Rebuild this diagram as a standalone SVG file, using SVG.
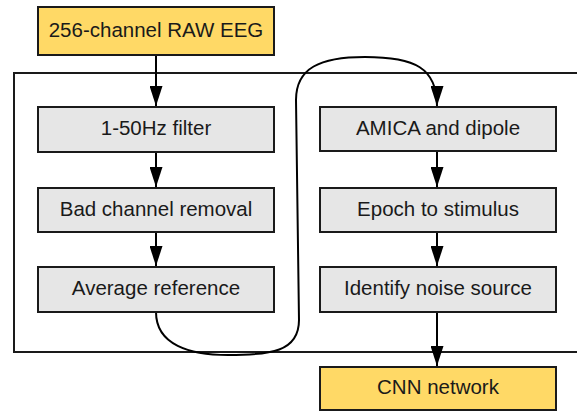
<svg xmlns="http://www.w3.org/2000/svg" width="577" height="411" viewBox="0 0 577 411">
<defs>
<style>
.box{stroke:#1a1a1a;stroke-width:2}
.y{fill:#ffd966}
.g{fill:#e6e6e6}
text{font-family:"Liberation Sans",Arial,sans-serif;font-size:20.5px;fill:#1a1a1a;text-anchor:middle}
.c{fill:none;stroke:#000;stroke-width:2}
</style>
<marker id="ah" markerWidth="20" markerHeight="13" refX="20" refY="6.5" orient="auto" markerUnits="userSpaceOnUse" viewBox="0 0 20 13">
<path d="M0,0 L20,6.5 L0,13 Z" fill="#000"/>
</marker>
</defs>
<rect x="14" y="73" width="580" height="279" fill="none" stroke="#1a1a1a" stroke-width="2"/>
<g id="connectors">
<path class="c" d="M156,55 L156,106" marker-end="url(#ah)"/>
<path class="c" d="M156,152 L156,187" marker-end="url(#ah)"/>
<path class="c" d="M156,232 L156,266" marker-end="url(#ah)"/>
<path class="c" d="M437,151 L437,187" marker-end="url(#ah)"/>
<path class="c" d="M437,232 L437,266" marker-end="url(#ah)"/>
<path class="c" d="M437,312 L437,366" marker-end="url(#ah)"/>
<path class="c" d="M156,312 C156,345 190,355 228,355 C270,355 299,352 299,320 L296,100 C296,68 320,57 365,57 C415,57 437,68 437,106" marker-end="url(#ah)"/>
</g>
<g id="raw"><rect class="box y" x="38" y="7" width="236" height="48"/><text x="156" y="37">256-channel RAW EEG</text></g>
<g id="filter"><rect class="box g" x="38" y="107" width="236" height="45"/><text x="156" y="135">1-50Hz filter</text></g>
<g id="badch"><rect class="box g" x="38" y="188" width="236" height="44"/><text x="156" y="216">Bad channel removal</text></g>
<g id="avgref"><rect class="box g" x="38" y="267" width="236" height="45"/><text x="156" y="295">Average reference</text></g>
<g id="amica"><rect class="box g" x="320" y="107" width="236" height="44"/><text x="438" y="135">AMICA and dipole</text></g>
<g id="epoch"><rect class="box g" x="320" y="188" width="236" height="44"/><text x="438" y="216">Epoch to stimulus</text></g>
<g id="noise"><rect class="box g" x="320" y="267" width="236" height="45"/><text x="438" y="295">Identify noise source</text></g>
<g id="cnn"><rect class="box y" x="320" y="367" width="236" height="43"/><text x="438" y="394">CNN network</text></g>
</svg>
